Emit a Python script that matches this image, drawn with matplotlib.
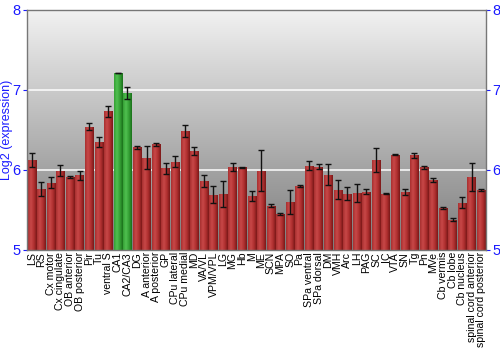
import numpy as np
import matplotlib
matplotlib.use("Agg")
import matplotlib.pyplot as plt
from matplotlib.colors import LinearSegmentedColormap

plt.rcParams["font.family"] = ["Liberation Sans", "DejaVu Sans"]

categories = ["LS", "RS", "Cx motor", "Cx cingulate", "OB anterior", "OB posterior", "Pir", "Tu",
              "ventral S", "CA1", "CA2/CA3", "DG", "A anterior", "A posterior", "GP", "CPu lateral",
              "CPu medial", "MD", "VA/VL", "VPM/VPL", "LG", "MG", "Hb", "M", "ME", "SCN", "MPA", "SO",
              "Pa", "SPa ventral", "SPa dorsal", "DM", "VMH", "Arc", "LH", "PAG", "SC", "IC", "VTA",
              "SN", "Tg", "Pn", "MVe", "Cb vermis", "Cb lobe", "Cb nucleus", "spinal cord anterior",
              "spinal cord posterior"]
values = [6.125, 5.76, 5.84, 5.99, 5.91, 5.93, 6.54, 6.35, 6.73, 7.21, 6.96, 6.28, 6.15, 6.32, 6.02,
          6.10, 6.49, 6.23, 5.86, 5.69, 5.70, 6.03, 6.03, 5.67, 5.99, 5.55, 5.45, 5.60, 5.80, 6.05,
          6.04, 5.94, 5.75, 5.70, 5.71, 5.725, 6.12, 5.70, 6.19, 5.72, 6.18, 6.03, 5.875, 5.525,
          5.375, 5.59, 5.91, 5.745]
errors = [0.09, 0.09, 0.07, 0.065, 0.015, 0.06, 0.04, 0.06, 0.07, 0.005, 0.07, 0.02, 0.145, 0.02, 0.07,
          0.07, 0.075, 0.05, 0.08, 0.11, 0.16, 0.05, 0.01, 0.06, 0.26, 0.02, 0.01, 0.15, 0.01, 0.055,
          0.03, 0.13, 0.12, 0.08, 0.11, 0.03, 0.15, 0.005, 0.005, 0.035, 0.03, 0.02, 0.025, 0.01,
          0.02, 0.07, 0.17, 0.015]
highlight = ["CA1", "CA2/CA3"]
yticks = [5, 6, 7, 8]

fig = plt.figure(figsize=(5, 3.5), dpi=100)
ax = fig.add_axes([0.054, 0.286, 0.918, 0.686])

x = np.arange(len(categories))

# background gradient (light at top, dark at bottom)
bg = LinearSegmentedColormap.from_list("bg", ["#f2f2f2", "#7c7c7c"])
grad = np.linspace(0, 1, 256).reshape(-1, 1)
ax.imshow(grad, cmap=bg, aspect="auto", origin="upper", extent=[0, 1, 0, 1],
          transform=ax.transAxes, zorder=0)

for yv in [6, 7]:
    ax.axhline(yv, color="white", lw=1.2, alpha=0.9, zorder=1)

red_cm = LinearSegmentedColormap.from_list("r", ["#a83030", "#c84848", "#b03030", "#7a1818"])
green_cm = LinearSegmentedColormap.from_list("g", ["#35a035", "#50c050", "#35a035", "#1b701b"])
hgrad = np.linspace(0, 1, 64).reshape(1, -1)

bars = ax.bar(x, np.array(values) - 5, bottom=5, width=0.88, color="none", edgecolor="none", zorder=2)
for name, b in zip(categories, bars):
    cm = green_cm if name in highlight else red_cm
    x0, y0 = b.get_x(), b.get_y()
    w, h = b.get_width(), b.get_height()
    im = ax.imshow(hgrad, cmap=cm, aspect="auto", extent=[x0, x0 + w, y0, y0 + h], zorder=2)
    im.set_clip_path(b)

ax.errorbar(x, values, yerr=errors, fmt="none", ecolor="#111111", elinewidth=1, capsize=2.5,
            capthick=1, zorder=3)

ax.set_xlim(-0.5, len(categories) - 0.5)
ax.set_ylim(5, 8)
ax.set_xticks(x)
ax.set_xticklabels(categories, rotation=90, fontsize=7.6, color="black")
ax.tick_params(axis="x", length=0, pad=1.5)
ax.set_yticks(yticks)
ax.tick_params(axis="y", colors="#1a1aff", labelsize=10.5, length=3, right=True, labelright=True,
               direction="out", pad=1.5)
for t in ax.get_yticklabels():
    t.set_color("#1a1aff")
ax.set_ylabel("Log2 (expression)", color="#1a1aff", fontsize=9, labelpad=0)
for s in ax.spines.values():
    s.set_color("#777777")
    s.set_linewidth(1)

fig.savefig("out.png", dpi=100)
